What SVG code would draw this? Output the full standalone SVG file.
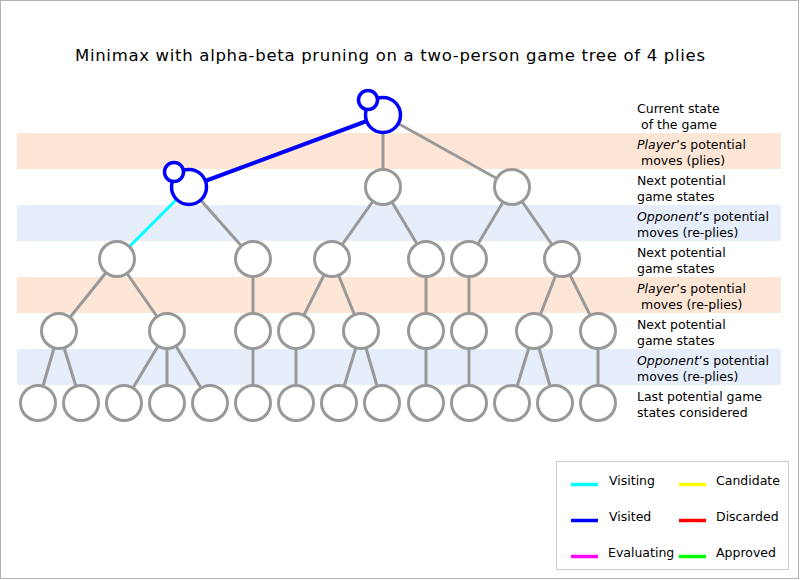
<svg xmlns="http://www.w3.org/2000/svg" width="800" height="580" viewBox="0 0 800 580">
<style>
text{font-family:"DejaVu Sans","Liberation Sans",sans-serif;fill:#000}
.title{font-size:16.5px}
.lbl{font-size:12.5px}
.band-o{fill:#fee6d6}
.band-b{fill:#e6eefc}
.e{stroke:#999;stroke-width:3;fill:none}
.ev{stroke:#0000ff;stroke-width:4;fill:none}
.ec{stroke:#00ffff;stroke-width:3;fill:none}
.n{fill:#fff;stroke:#999;stroke-width:3}
.nv{fill:#fff;stroke:#0000ff;stroke-width:3.5}
.lg{stroke-width:3.5;fill:none}
</style>
<rect x="0.5" y="0.5" width="798" height="578" fill="#fff" stroke="#b3b3b3"/>
<text class="title" x="75" y="61" textLength="630" lengthAdjust="spacing">Minimax with alpha-beta pruning on a two-person game tree of 4 plies</text>
<g id="bands">
<rect class="band-o" x="17" y="133" width="764" height="36"/>
<rect class="band-b" x="17" y="205" width="764" height="36"/>
<rect class="band-o" x="17" y="277" width="764" height="36"/>
<rect class="band-b" x="17" y="349" width="764" height="36"/>
</g>
<g id="connectors">
<line class="ev" x1="383" y1="115" x2="189" y2="187"/>
<line class="e" x1="383" y1="115" x2="383" y2="187"/>
<line class="e" x1="383" y1="115" x2="512" y2="187"/>
<line class="ec" x1="189" y1="187" x2="117" y2="259"/>
<line class="e" x1="189" y1="187" x2="253" y2="259"/>
<line class="e" x1="383" y1="187" x2="332" y2="259"/>
<line class="e" x1="383" y1="187" x2="426" y2="259"/>
<line class="e" x1="512" y1="187" x2="469" y2="259"/>
<line class="e" x1="512" y1="187" x2="562" y2="259"/>
<line class="e" x1="117" y1="259" x2="59" y2="331"/>
<line class="e" x1="117" y1="259" x2="167" y2="331"/>
<line class="e" x1="253" y1="259" x2="253" y2="331"/>
<line class="e" x1="332" y1="259" x2="296" y2="331"/>
<line class="e" x1="332" y1="259" x2="361" y2="331"/>
<line class="e" x1="426" y1="259" x2="426" y2="331"/>
<line class="e" x1="469" y1="259" x2="469" y2="331"/>
<line class="e" x1="562" y1="259" x2="534" y2="331"/>
<line class="e" x1="562" y1="259" x2="598" y2="331"/>
<line class="e" x1="59" y1="331" x2="38" y2="403"/>
<line class="e" x1="59" y1="331" x2="81" y2="403"/>
<line class="e" x1="167" y1="331" x2="124" y2="403"/>
<line class="e" x1="167" y1="331" x2="167" y2="403"/>
<line class="e" x1="167" y1="331" x2="210" y2="403"/>
<line class="e" x1="253" y1="331" x2="253" y2="403"/>
<line class="e" x1="296" y1="331" x2="296" y2="403"/>
<line class="e" x1="361" y1="331" x2="339" y2="403"/>
<line class="e" x1="361" y1="331" x2="382" y2="403"/>
<line class="e" x1="426" y1="331" x2="426" y2="403"/>
<line class="e" x1="469" y1="331" x2="469" y2="403"/>
<line class="e" x1="534" y1="331" x2="512" y2="403"/>
<line class="e" x1="534" y1="331" x2="555" y2="403"/>
<line class="e" x1="598" y1="331" x2="598" y2="403"/>
</g>
<g id="nodes">
<g id="n0"><circle class="nv" cx="383" cy="115" r="17.5"/><circle class="nv" cx="368" cy="100" r="9.5"/></g>
<g id="n1a"><circle class="nv" cx="189" cy="187" r="17.5"/><circle class="nv" cx="174" cy="172" r="9.5"/></g>
<g id="n1b"><circle class="n" cx="383" cy="187" r="17.5"/></g>
<g id="n1c"><circle class="n" cx="512" cy="187" r="17.5"/></g>
<g id="n2a"><circle class="n" cx="117" cy="259" r="17.5"/></g>
<g id="n2b"><circle class="n" cx="253" cy="259" r="17.5"/></g>
<g id="n2c"><circle class="n" cx="332" cy="259" r="17.5"/></g>
<g id="n2d"><circle class="n" cx="426" cy="259" r="17.5"/></g>
<g id="n2e"><circle class="n" cx="469" cy="259" r="17.5"/></g>
<g id="n2f"><circle class="n" cx="562" cy="259" r="17.5"/></g>
<g id="n3a"><circle class="n" cx="59" cy="331" r="17.5"/></g>
<g id="n3b"><circle class="n" cx="167" cy="331" r="17.5"/></g>
<g id="n3c"><circle class="n" cx="253" cy="331" r="17.5"/></g>
<g id="n3d"><circle class="n" cx="296" cy="331" r="17.5"/></g>
<g id="n3e"><circle class="n" cx="361" cy="331" r="17.5"/></g>
<g id="n3f"><circle class="n" cx="426" cy="331" r="17.5"/></g>
<g id="n3g"><circle class="n" cx="469" cy="331" r="17.5"/></g>
<g id="n3h"><circle class="n" cx="534" cy="331" r="17.5"/></g>
<g id="n3i"><circle class="n" cx="598" cy="331" r="17.5"/></g>
<g id="n4a"><circle class="n" cx="38" cy="403" r="17.5"/></g>
<g id="n4b"><circle class="n" cx="81" cy="403" r="17.5"/></g>
<g id="n4c"><circle class="n" cx="124" cy="403" r="17.5"/></g>
<g id="n4d"><circle class="n" cx="167" cy="403" r="17.5"/></g>
<g id="n4e"><circle class="n" cx="210" cy="403" r="17.5"/></g>
<g id="n4f"><circle class="n" cx="253" cy="403" r="17.5"/></g>
<g id="n4g"><circle class="n" cx="296" cy="403" r="17.5"/></g>
<g id="n4h"><circle class="n" cx="339" cy="403" r="17.5"/></g>
<g id="n4i"><circle class="n" cx="382" cy="403" r="17.5"/></g>
<g id="n4j"><circle class="n" cx="426" cy="403" r="17.5"/></g>
<g id="n4k"><circle class="n" cx="469" cy="403" r="17.5"/></g>
<g id="n4l"><circle class="n" cx="512" cy="403" r="17.5"/></g>
<g id="n4m"><circle class="n" cx="555" cy="403" r="17.5"/></g>
<g id="n4n"><circle class="n" cx="598" cy="403" r="17.5"/></g>
</g>
<g id="labels" class="lbl">
<text class="lbl" x="637" y="113">Current state</text>
<text class="lbl" x="641" y="128.5">of the game</text>
<text class="lbl" x="637" y="149"><tspan font-style="italic">Player</tspan>’s potential</text>
<text class="lbl" x="641" y="164.5">moves (plies)</text>
<text class="lbl" x="637" y="185">Next potential</text>
<text class="lbl" x="637" y="200.5">game states</text>
<text class="lbl" x="637" y="221"><tspan font-style="italic">Opponent</tspan>’s potential</text>
<text class="lbl" x="637" y="236.5">moves (re-plies)</text>
<text class="lbl" x="637" y="257">Next potential</text>
<text class="lbl" x="637" y="272.5">game states</text>
<text class="lbl" x="637" y="293"><tspan font-style="italic">Player</tspan>’s potential</text>
<text class="lbl" x="641" y="308.5">moves (re-plies)</text>
<text class="lbl" x="637" y="329">Next potential</text>
<text class="lbl" x="637" y="344.5">game states</text>
<text class="lbl" x="637" y="365"><tspan font-style="italic">Opponent</tspan>’s potential</text>
<text class="lbl" x="637" y="380.5">moves (re-plies)</text>
<text class="lbl" x="637" y="401">Last potential game</text>
<text class="lbl" x="637" y="416.5">states considered</text>
</g>
<g id="legend">
<rect x="556.5" y="461.5" width="232" height="108" fill="#fff" stroke="#cccccc"/>
<line class="lg" x1="571" y1="484.5" x2="598" y2="484.5" stroke="#00ffff"/>
<text class="lbl" x="609" y="485">Visiting</text>
<line class="lg" x1="571" y1="520.5" x2="598" y2="520.5" stroke="#0000ff"/>
<text class="lbl" x="609" y="521">Visited</text>
<line class="lg" x1="571" y1="556.5" x2="598" y2="556.5" stroke="#ff00ff"/>
<text class="lbl" x="608" y="557">Evaluating</text>
<line class="lg" x1="679" y1="484.5" x2="706" y2="484.5" stroke="#ffff00"/>
<text class="lbl" x="716" y="485">Candidate</text>
<line class="lg" x1="679" y1="520.5" x2="706" y2="520.5" stroke="#ff0000"/>
<text class="lbl" x="716" y="521">Discarded</text>
<line class="lg" x1="679" y1="556.5" x2="706" y2="556.5" stroke="#00ff00"/>
<text class="lbl" x="716" y="557">Approved</text>
</g>
</svg>
